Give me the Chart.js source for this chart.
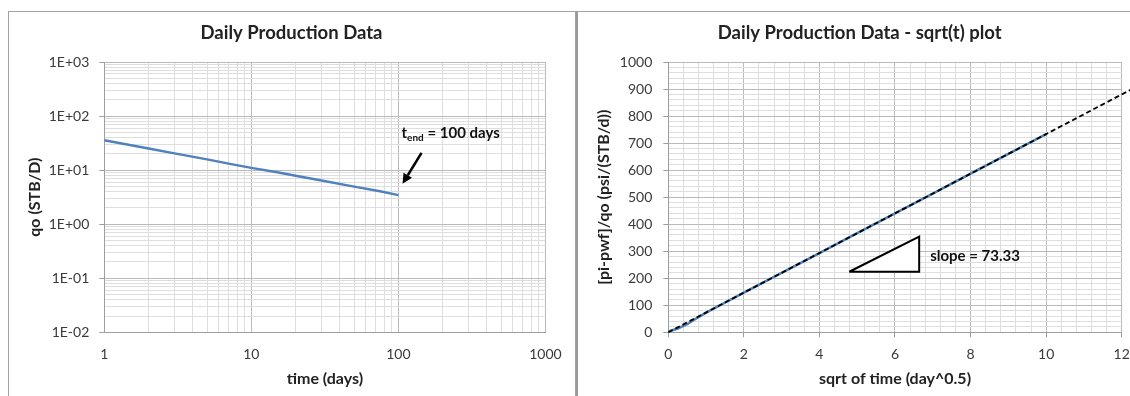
<!DOCTYPE html>
<html>
<head>
<meta charset="utf-8">
<title>Daily Production Data</title>
<script src="https://cdn.jsdelivr.net/npm/chart.js@4.4.0/dist/chart.umd.min.js"></script>
<style>
  html, body { margin: 0; padding: 0; background: #fff; }
  body { position: relative; width: 1130px; height: 396px; overflow: hidden; }
  .frame { position: absolute; box-sizing: border-box; }
  #frameRate { left: 8px; top: 11px; width: 568px; height: 430px; border: 1px solid #a3a3a3; }
  #frameSqrt { left: 576px; top: 11px; width: 620px; height: 430px; border: 1px solid #a3a3a3; border-left: 2px solid #999; }
  canvas { position: absolute; top: 0; }
  #rateChart { left: 0; }
  #sqrtChart { left: 577px; }
</style>
</head>
<body>
<div class="frame" id="frameRate"></div>
<div class="frame" id="frameSqrt"></div>
<canvas id="rateChart" width="575" height="396"></canvas>
<canvas id="sqrtChart" width="573" height="396"></canvas>
<script>
// ---- data ---------------------------------------------------------------
// daily oil rate vs time
const prodDays = [1, 2, 3, 5, 7, 10, 15, 20, 30, 50, 75, 100];
const prodRate = [35.8, 25.1, 20.4, 15.8, 13.2, 11.0, 9.1, 7.9, 6.4, 4.95, 4.08, 3.45];

// normalised pressure drop vs square root of time
const sqrtTime = [0, 0.25, 0.5, 0.75, 1, 2, 3, 4, 5, 6, 7, 8, 9, 10];
const normPressure = [3, 14, 30, 52, 73, 147, 220, 293, 367, 440, 513, 587, 660, 733];

// straight-line fit through the origin (slope 73.33)
const slopeValue = 73.33;
const trendSqrtTime = [0, 12.5];
const trendNormPressure = [0, 916.6];

// slope triangle corners
const triangleX = [4.79, 6.64, 6.64, 4.79];
const triangleY = [224, 224, 354, 224];

// axis tick labels
const qAxisValues = [0.01, 0.1, 1, 10, 100, 1000];
const qAxisLabels = ['1E-02', '1E-01', '1E+00', '1E+01', '1E+02', '1E+03'];
const timeAxisValues = [1, 10, 100, 1000];
const timeAxisLabels = ['1', '10', '100', '1000'];
const sqrtAxisValues = [0, 2, 4, 6, 8, 10, 12];
const sqrtAxisLabels = ['0', '2', '4', '6', '8', '10', '12'];
const pressAxisValues = [0, 100, 200, 300, 400, 500, 600, 700, 800, 900, 1000];
const pressAxisLabels = ['0', '100', '200', '300', '400', '500', '600', '700', '800', '900', '1000'];

// ---- styling ------------------------------------------------------------
const FONT = 'Lato, "Open Sans", "DejaVu Sans", sans-serif';
const TEXT = '#222';
const TICK_TEXT = '#3a3a3a';
const GRID_MAJOR = '#bababa';
const GRID_MINOR = '#dedede';
const AXIS_LINE = '#9e9e9e';
const BLUE = '#4f81bd';

function labelFor(values, labels, v) {
  const i = values.findIndex(a => Math.abs(a - v) <= 1e-9 * Math.max(1, Math.abs(a)));
  return i >= 0 ? labels[i] : '';
}
function isMajorOf(values, v) {
  return values.some(a => Math.abs(a - v) <= 1e-9 * Math.max(1, Math.abs(a)));
}
// 1..9 per decade gridlines
function logGridTicks(min, max) {
  const out = [];
  const e0 = Math.round(Math.log10(min)), e1 = Math.round(Math.log10(max));
  for (let e = e0; e < e1; e++) {
    for (let m = 1; m < 10; m++) out.push({ value: Number((m * Math.pow(10, e)).toPrecision(6)) });
  }
  out.push({ value: max });
  return out;
}
function linearGridTicks(min, max, step) {
  const out = [];
  const n = Math.round((max - min) / step);
  for (let i = 0; i <= n; i++) out.push({ value: Number((min + i * step).toFixed(6)) });
  return out;
}
function axisStyle(majors, labels, opts) {
  return {
    grid: {
      color: c => (c.tick && isMajorOf(majors, c.tick.value)) ? GRID_MAJOR : GRID_MINOR,
      tickColor: c => (c.tick && isMajorOf(majors, c.tick.value)) ? AXIS_LINE : 'rgba(0,0,0,0)',
      tickLength: 5,
      drawTicks: opts.drawTicks,
      lineWidth: 1
    },
    border: { color: AXIS_LINE, width: 1 },
    ticks: {
      autoSkip: false,
      maxRotation: 0,
      minRotation: 0,
      padding: opts.tickPadding,
      color: TICK_TEXT,
      font: { family: FONT, size: 14 },
      callback: v => labelFor(majors, labels, v)
    }
  };
}
function axisTitle(text, padding) {
  return { display: true, text, color: TEXT, font: { family: FONT, size: 16, weight: 'bold' }, padding };
}
function chartTitle(text) {
  return {
    display: true, text, color: TEXT,
    font: { family: FONT, size: 18.5, weight: 'bold' },
    padding: { top: 21.9, bottom: 17.9 }
  };
}

// ---- annotation plugins -------------------------------------------------
const tEndNote = {
  id: 'tEndNote',
  afterDatasetsDraw(chart) {
    const { ctx, scales: { x, y } } = chart;
    ctx.save();
    // arrow pointing to the last data day
    const x0 = x.getPixelForValue(143.6), y0 = y.getPixelForValue(20.9);
    const x1 = x.getPixelForValue(106.7), y1 = y.getPixelForValue(5.59);
    const ang = Math.atan2(y1 - y0, x1 - x0);
    const head = 10, half = 5;
    const bx = x1 - head * Math.cos(ang), by = y1 - head * Math.sin(ang);
    ctx.strokeStyle = '#000';
    ctx.fillStyle = '#000';
    ctx.lineWidth = 2.5;
    ctx.beginPath();
    ctx.moveTo(x0, y0);
    ctx.lineTo(bx, by);
    ctx.stroke();
    ctx.beginPath();
    ctx.moveTo(x1, y1);
    ctx.lineTo(bx + half * Math.sin(ang), by - half * Math.cos(ang));
    ctx.lineTo(bx - half * Math.sin(ang), by + half * Math.cos(ang));
    ctx.closePath();
    ctx.fill();
    // t_end = 100 days
    let tx = x.getPixelForValue(105);
    const ty = y.getPixelForValue(39.6);
    ctx.fillStyle = '#111';
    ctx.textBaseline = 'alphabetic';
    ctx.textAlign = 'left';
    ctx.font = 'bold 15px ' + FONT;
    ctx.fillText('t', tx, ty);
    tx += ctx.measureText('t').width;
    ctx.font = 'bold 10px ' + FONT;
    ctx.fillText('end', tx, ty + 3.5);
    tx += ctx.measureText('end').width;
    ctx.font = 'bold 15px ' + FONT;
    ctx.fillText(' = 100 days', tx, ty);
    ctx.restore();
  }
};

const slopeNote = {
  id: 'slopeNote',
  afterDatasetsDraw(chart) {
    const { ctx, scales: { x, y } } = chart;
    ctx.save();
    ctx.fillStyle = '#111';
    ctx.font = 'bold 15px ' + FONT;
    ctx.textAlign = 'left';
    ctx.textBaseline = 'middle';
    ctx.fillText('slope = ' + slopeValue.toFixed(2), x.getPixelForValue(6.93), y.getPixelForValue(280));
    ctx.restore();
  }
};

// ---- left: rate vs time, log-log ----------------------------------------
const rateX = axisStyle(timeAxisValues, timeAxisLabels, { drawTicks: false, tickPadding: 13.3 });
const rateY = axisStyle(qAxisValues, qAxisLabels, { drawTicks: true, tickPadding: 10 });

new Chart(document.getElementById('rateChart'), {
  type: 'line',
  data: {
    datasets: [{
      data: prodDays.map((d, i) => ({ x: d, y: prodRate[i] })),
      borderColor: BLUE,
      borderWidth: 2.5,
      pointRadius: 0,
      fill: false,
      tension: 0
    }]
  },
  options: {
    responsive: false,
    animation: false,
    layout: { padding: { left: 37.3, right: 29.3, top: 0, bottom: 0 } },
    plugins: {
      legend: { display: false },
      tooltip: { enabled: false },
      title: chartTitle('Daily Production Data')
    },
    scales: {
      x: Object.assign(rateX, {
        type: 'logarithmic', min: 1, max: 1000,
        afterBuildTicks: s => { s.ticks = logGridTicks(1, 1000); },
        afterFit: s => { s.height = 63.7; },
        title: axisTitle('time (days)', { top: 0, bottom: 7.9 })
      }),
      y: Object.assign(rateY, {
        type: 'logarithmic', min: 0.01, max: 1000,
        afterBuildTicks: s => { s.ticks = logGridTicks(0.01, 1000); },
        afterFit: s => { s.width = 67; },
        title: axisTitle('qo (STB/D)', { top: -11.9, bottom: 0 })
      })
    }
  },
  plugins: [tEndNote]
});

// ---- right: normalised pressure vs sqrt(t) ------------------------------
const sqrtX = axisStyle(sqrtAxisValues, sqrtAxisLabels, { drawTicks: true, tickPadding: 8.3 });
const sqrtY = axisStyle(pressAxisValues, pressAxisLabels, { drawTicks: true, tickPadding: 11 });

new Chart(document.getElementById('sqrtChart'), {
  type: 'line',
  data: {
    datasets: [
      {
        // fitted line
        data: trendSqrtTime.map((v, i) => ({ x: v, y: trendNormPressure[i] })),
        borderColor: '#000',
        borderWidth: 1.8,
        borderDash: [5, 3],
        pointRadius: 0,
        fill: false,
        clip: false,
        order: 0
      },
      {
        // measured data
        data: sqrtTime.map((v, i) => ({ x: v, y: normPressure[i] })),
        borderColor: BLUE,
        borderWidth: 2.5,
        pointRadius: 0,
        fill: false,
        order: 1
      },
      {
        // slope triangle
        data: triangleX.map((v, i) => ({ x: v, y: triangleY[i] })),
        borderColor: '#000',
        backgroundColor: '#fff',
        borderWidth: 2,
        borderJoinStyle: 'miter',
        pointRadius: 0,
        fill: 'shape',
        order: 2
      }
    ]
  },
  options: {
    responsive: false,
    animation: false,
    layout: { padding: { left: 20.7, right: 28.3, top: 0, bottom: 0 } },
    plugins: {
      legend: { display: false },
      tooltip: { enabled: false },
      title: chartTitle('Daily Production Data - sqrt(t) plot')
    },
    scales: {
      x: Object.assign(sqrtX, {
        type: 'linear', min: 0, max: 12,
        afterBuildTicks: s => { s.ticks = linearGridTicks(0, 12, 0.4); },
        afterFit: s => { s.height = 63.7; },
        title: axisTitle('sqrt of time (day^0.5)', { top: 0, bottom: 7.9 })
      }),
      y: Object.assign(sqrtY, {
        type: 'linear', min: 0, max: 1000,
        afterBuildTicks: s => { s.ticks = linearGridTicks(0, 1000, 20); },
        afterFit: s => { s.width = 70.6; },
        title: axisTitle('[pi-pwf]/qo (psi/(STB/d))', { top: -3.3, bottom: 0 })
      })
    }
  },
  plugins: [slopeNote]
});
</script>
</body>
</html>
